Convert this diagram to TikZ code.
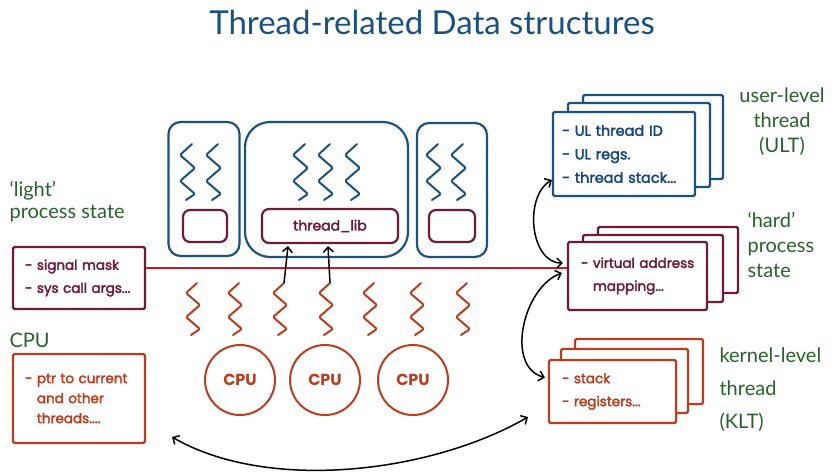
\documentclass[tikz,border=0pt]{standalone}
\usepackage{fontspec}
\setmainfont{Poppins}
\newfontfamily\boxfont{Poppins}[FakeBold=2.5]
\newfontfamily\handfont{Lato}
\usetikzlibrary{arrows.meta, calc}
\definecolor{procblue}{RGB}{28,82,128}
\definecolor{ultblue}{RGB}{25,72,128}
\definecolor{maroon}{RGB}{112,26,58}
\definecolor{rust}{RGB}{185,62,32}
\definecolor{handgreen}{RGB}{40,98,42}
\definecolor{redline}{RGB}{185,30,42}
\definecolor{titleblue}{RGB}{25,80,130}

\begin{document}
\begin{tikzpicture}[x=1pt, y=-1pt,
    procbox/.style={draw=procblue, line width=2.2pt, rounded corners=12pt, fill=white},
    libbox/.style={draw=maroon, line width=2.2pt, rounded corners=7pt, font=\boxfont\fontsize{14}{16}\selectfont, text=maroon},
    card/.style={draw=#1, line width=2.2pt, fill=white, rounded corners=1.5pt},
    cardtext/.style={text=#1, align=left, inner xsep=6pt, font=\boxfont\fontsize{13.5}{23}\selectfont},
    cpu/.style={circle, draw=rust, line width=2pt, minimum size=70pt, text=rust, font=\fontsize{16}{18}\selectfont\bfseries},
    hand/.style={text=handgreen, align=left, font=\handfont\fontsize{20}{25}\selectfont},
    squig/.style={line width=2pt, line cap=round, line join=round, rounded corners=1.5pt},
    dblarrow/.style={black, line width=1.5pt, {Straight Barb[length=5pt]}-{Straight Barb[length=5pt]}},
    uparrow/.style={black, line width=1.5pt, -{Straight Barb[length=5pt]}}]
    \useasboundingbox (0,0) rectangle (837,475);

    % Title
    \node[text=titleblue, font=\handfont\fontsize{33}{35}\selectfont] (title) at (432,22) {Thread-related Data structures};

    % Processes
    \node[procbox, minimum width=71pt, minimum height=134pt] (procA) at (204,189) {};
    \node[procbox, rounded corners=25pt, minimum width=163pt, minimum height=135pt] (procB) at (326.5,189.5) {};
    \node[procbox, minimum width=70pt, minimum height=134pt] (procC) at (452,190) {};
    \node[libbox, minimum width=44pt, minimum height=32pt] (libA) at (205,226) {};
    \node[libbox, minimum width=136pt, minimum height=34pt] (threadlib) at (330,226) {thread\_lib};
    \node[libbox, minimum width=46pt, minimum height=32pt] (libC) at (452,226) {};

    % User-level threads
    \foreach \x in {187,213,300,325,352,433,458}
        \draw[squig, procblue] (\x+5,144) -- ++(-12,11) -- ++(15,13) -- ++(-15,13) -- ++(15,13) -- ++(-9,6);

    % Kernel-level threads
    \foreach \x [count=\i] in {193,235,280,326,370,417,463} {
        \coordinate (kt\i) at (\x+4,283);
        \draw[squig, rust] (kt\i) -- ++(-11,10) -- ++(14,12) -- ++(-14,12) -- ++(14,12) -- ++(-9,6);
    }

    % CPUs
    \node[cpu] (cpuA) at (240,380) {CPU};
    \node[cpu] (cpuB) at (325,380) {CPU};
    \node[cpu] (cpuC) at (413,380) {CPU};

    % Left side
    \node[hand, anchor=west] (light) at (6,202) {‘light’\\[-3pt]process state};
    \node[card=maroon, cardtext=maroon, text width=120pt, minimum height=62pt] (sigbox) at (79,278) {\hspace*{6pt}- signal mask\\\hspace*{6pt}- sys call args...};
    \node[hand, anchor=west] (cpulabel) at (6,340) {CPU};
    \node[card=rust, cardtext=rust, text width=120pt, minimum height=89pt, font=\boxfont\fontsize{13.5}{20}\selectfont] (cpubox) at (79,398.5) {\hspace*{6pt}- ptr to current\\\hspace*{6pt}\phantom{- }and other\\\hspace*{6pt}\phantom{- }threads....};

    % ULT stack
    \node[card=procblue, minimum width=140pt, minimum height=84pt] (ult3) at (653,137) {};
    \node[card=procblue, minimum width=142pt, minimum height=84pt] (ult2) at (639,145) {};
    \node[card=procblue, cardtext=ultblue, text width=130pt, minimum height=84pt, font=\boxfont\fontsize{14.5}{23.5}\selectfont] (ult1) at (624,154) {\hspace*{3pt}- UL thread ID\\\hspace*{3pt}- UL regs.\\\hspace*{3pt}- thread stack...};
    \node[hand, align=center] (ultlabel) at (782,122) {user-level\\thread\\(ULT)};

    % Hard process state stack
    \node[card=maroon, minimum width=140pt, minimum height=66pt] (va3) at (668,260) {};
    \node[card=maroon, minimum width=140pt, minimum height=67pt] (va2) at (653,268.5) {};
    \node[card=maroon, cardtext=maroon, text width=127pt, minimum height=68pt] (va1) at (637.5,276) {\hspace*{7pt}- virtual address\\\hspace*{7pt}\phantom{- }mapping...};
    \node[hand, anchor=west] (valabel) at (744,245) {‘hard’\\process\\state};

    % KLT stack
    \node[card=rust, minimum width=128pt, minimum height=65pt] (klt3) at (639,371.5) {};
    \node[card=rust, minimum width=127pt, minimum height=64pt] (klt2) at (624.5,381) {};
    \node[card=rust, cardtext=rust, text width=115pt, minimum height=63pt] (klt1) at (612.5,391.5) {\hspace*{7pt}- stack\\\hspace*{7pt}- registers...};
    \node[hand, anchor=west, font=\handfont\fontsize{20}{33}\selectfont] (kltlabel) at (716,390) {kernel-level\\thread\\(KLT)};

    % Connections
    \draw[redline, line width=1.6pt] ([yshift=10pt]sigbox.east) -- ([yshift=8pt]va1.west);
    \draw[uparrow] (kt3) -- ([xshift=-42pt,yshift=-2pt]threadlib.south);
    \draw[uparrow] (kt4) -- ([xshift=-2pt,yshift=-2pt]threadlib.south);
    \draw[dblarrow] ([yshift=-26pt]ult1.west) to[out=210, in=180] ([xshift=-4pt,yshift=13pt]va1.west);
    \draw[dblarrow] ([xshift=-5pt,yshift=3pt]va1.west) to[out=200, in=165] ([xshift=-3pt,yshift=14pt]klt1.west);
    \coordinate (cpuend) at (172,437);
    \coordinate (kltend) at (528,417);
    \draw[dblarrow] (cpuend) to[out=-30, in=210, looseness=0.8] (kltend);
\end{tikzpicture}
\end{document}
